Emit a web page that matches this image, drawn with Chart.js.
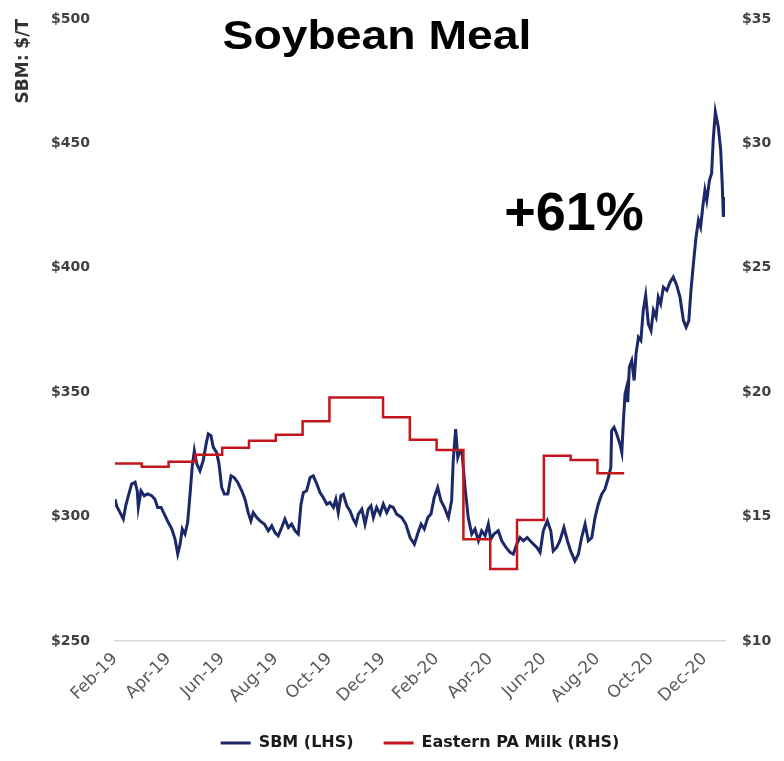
<!DOCTYPE html>
<html>
<head>
<meta charset="utf-8">
<script src="https://cdn.jsdelivr.net/npm/chart.js@4.4.1/dist/chart.umd.min.js"></script>
<style>
  html, body { margin: 0; padding: 0; background: #fff; }
  #wrap { width: 784px; height: 761px; }
</style>
</head>
<body>
<div id="wrap"><canvas id="sbmChart" width="784" height="761"></canvas></div>
<script>
// x values are months counted from 1 Feb 2019 (0 = Feb-19, 2 = Apr-19, ...)
const tickMonths = [0, 2, 4, 6, 8, 10, 12, 14, 16, 18, 20, 22];
const tickLabels = ['Feb-19', 'Apr-19', 'Jun-19', 'Aug-19', 'Oct-19', 'Dec-19',
                    'Feb-20', 'Apr-20', 'Jun-20', 'Aug-20', 'Oct-20', 'Dec-20'];

// SBM price, $/T (left axis)
const sbmMonths = [
  0, 0.06, 0.19, 0.31, 0.40, 0.50, 0.62, 0.75, 0.83, 0.87,
  0.97, 1.09, 1.22, 1.37, 1.49, 1.59, 1.72, 1.84, 1.99, 2.12,
  2.24, 2.34, 2.43, 2.51, 2.61, 2.71, 2.80, 2.88, 2.96, 3.05,
  3.17, 3.29, 3.40, 3.48, 3.58, 3.67, 3.79, 3.88, 3.98, 4.08,
  4.21, 4.33, 4.45, 4.58, 4.73, 4.85, 4.97, 5.07, 5.16, 5.29,
  5.41, 5.57, 5.72, 5.85, 5.97, 6.09, 6.22, 6.34, 6.47, 6.59,
  6.72, 6.84, 6.94, 7.03, 7.15, 7.28, 7.40, 7.53, 7.65, 7.77,
  7.90, 8.02, 8.15, 8.24, 8.33, 8.43, 8.52, 8.65, 8.77, 8.89,
  8.99, 9.08, 9.21, 9.33, 9.45, 9.55, 9.64, 9.76, 9.89, 10.01,
  10.14, 10.26, 10.38, 10.51, 10.70, 10.85, 11.01, 11.17, 11.29, 11.42,
  11.54, 11.67, 11.79, 11.91, 12.04, 12.16, 12.29, 12.44, 12.56, 12.62,
  12.71, 12.79, 12.87, 12.94, 13.06, 13.18, 13.31, 13.43, 13.56, 13.68,
  13.81, 13.93, 14.02, 14.14, 14.30, 14.43, 14.59, 14.74, 14.86, 14.99,
  15.11, 15.24, 15.38, 15.55, 15.74, 15.86, 15.98, 16.13, 16.26, 16.35,
  16.48, 16.60, 16.75, 16.88, 17.00, 17.16, 17.29, 17.41, 17.54, 17.66,
  17.79, 17.91, 18.03, 18.16, 18.28, 18.41, 18.50, 18.53, 18.62, 18.72,
  18.84, 18.91, 18.97, 19.03, 19.09, 19.13, 19.19, 19.28, 19.37, 19.44,
  19.53, 19.62, 19.71, 19.80, 19.90, 20.00, 20.09, 20.19, 20.27, 20.36,
  20.46, 20.59, 20.71, 20.83, 20.96, 21.08, 21.21, 21.31, 21.41, 21.49,
  21.58, 21.68, 21.77, 21.85, 21.93, 22.01, 22.08, 22.18, 22.26, 22.32,
  22.40, 22.51, 22.60, 22.66, 22.70, 22.74
];
const sbmPrices = [
  307.0, 304.3, 301.6, 299.0, 304.3, 308.4, 313.1, 313.8, 310.4, 303.7,
  310.4, 308.4, 309.1, 308.4, 307.0, 303.7, 303.7, 301.0, 297.6, 295.0,
  291.0, 285.0, 289.0, 295.0, 293.0, 297.6, 309.0, 320.0, 326.5, 321.2,
  318.4, 322.5, 329.2, 333.2, 332.5, 327.8, 325.8, 321.2, 311.7, 309.1,
  309.1, 316.4, 315.7, 313.7, 310.4, 307.0, 301.6, 298.3, 301.6, 299.6,
  298.3, 297.0, 294.3, 296.3, 293.6, 292.3, 295.6, 299.0, 295.6, 297.0,
  294.3, 293.0, 305.0, 309.7, 310.4, 315.7, 316.4, 313.1, 309.7, 307.7,
  305.0, 305.7, 303.7, 307.0, 301.6, 308.4, 309.0, 304.3, 302.3, 299.0,
  297.0, 301.0, 303.0, 297.0, 303.0, 304.3, 299.6, 303.7, 301.0, 305.0,
  301.6, 304.3, 303.7, 301.0, 299.6, 297.0, 291.6, 288.9, 293.0, 297.0,
  295.0, 299.6, 301.0, 307.7, 311.7, 306.4, 303.7, 299.6, 306.4, 322.5,
  335.2, 323.8, 326.5, 326.5, 311.7, 299.6, 293.0, 295.0, 290.3, 294.3,
  292.3, 297.0, 290.9, 293.0, 294.3, 290.3, 287.6, 285.6, 284.9, 289.0,
  291.6, 290.3, 291.6, 289.6, 287.6, 285.6, 294.3, 298.3, 294.3, 286.2,
  287.6, 290.3, 295.6, 290.3, 286.2, 282.2, 284.9, 291.6, 297.0, 290.3,
  291.6, 299.6, 305.0, 309.0, 311.0, 315.7, 319.8, 334.5, 335.9, 333.2,
  329.2, 325.8, 338.6, 349.3, 352.0, 346.0, 360.0, 362.7, 354.7, 365.4,
  372.1, 370.8, 382.9, 388.9, 377.5, 374.8, 382.9, 380.2, 388.2, 385.5,
  392.2, 390.9, 394.2, 396.3, 392.9, 388.2, 378.8, 376.1, 378.8, 390.9,
  401.6, 412.4, 419.1, 416.4, 424.4, 431.2, 427.1, 435.2, 437.9, 451.3,
  462.7, 456.6, 447.3, 432.5, 420.4, 428.5
];

// Eastern PA milk price, $/cwt (right axis), one value per month, last entry closes the step
const milkMonths = [0, 1, 2, 3, 4, 5, 6, 7, 8, 9, 10, 11, 12, 13, 14, 15, 16, 17, 18, 19];
const milkPrices = [17.13, 17.00, 17.20, 17.49, 17.77, 18.05, 18.29, 18.83, 19.79, 19.79,
                    18.99, 18.09, 17.68, 14.09, 12.89, 14.86, 17.45, 17.27, 16.74, 16.74];

const sbmPoints = sbmMonths.map((m, i) => ({ x: m, y: sbmPrices[i] }));
const milkPoints = milkMonths.map((m, i) => ({ x: m, y: milkPrices[i] }));

const navy = '#1c2868';
const red = '#c4161c';
const tickFont = { family: 'DejaVu Sans', size: 14, weight: 'bold' };

// big black captions drawn on top of the plot
const captions = {
  id: 'captions',
  afterDraw(chart) {
    const ctx = chart.ctx;
    ctx.save();
    ctx.fillStyle = '#000';
    ctx.textAlign = 'center';
    ctx.textBaseline = 'alphabetic';
    ctx.font = 'bold 41px "Liberation Sans", Arial, sans-serif';
    ctx.translate(377, 49);
    ctx.scale(1.13, 1);
    ctx.fillText('Soybean Meal', 0, 0);
    ctx.restore();
    ctx.save();
    ctx.fillStyle = '#000';
    ctx.textAlign = 'center';
    ctx.textBaseline = 'alphabetic';
    ctx.font = 'bold 54px "Liberation Sans", Arial, sans-serif';
    ctx.fillText('+61%', 574, 230);
    ctx.restore();
  }
};

const ctx = document.getElementById('sbmChart').getContext('2d');
const chart = new Chart(ctx, {
  type: 'line',
  data: {
    datasets: [{
      label: 'SBM (LHS)',
      data: sbmPoints,
      yAxisID: 'y',
      borderColor: navy,
      backgroundColor: navy,
      borderWidth: 3,
      pointRadius: 0,
      tension: 0,
      order: 1
    }, {
      label: 'Eastern PA Milk (RHS)',
      data: milkPoints,
      yAxisID: 'y1',
      borderColor: red,
      backgroundColor: red,
      borderWidth: 2.5,
      pointRadius: 0,
      stepped: 'before',
      order: 0
    }]
  },
  options: {
    responsive: false,
    animation: false,
    devicePixelRatio: 1,
    layout: { padding: { top: 19, left: 0, right: 0, bottom: 0 } },
    plugins: {
      title: { display: false },
      tooltip: { enabled: false },
      legend: {
        position: 'bottom',
        fullSize: false,
        labels: {
          boxWidth: 30,
          boxHeight: 3,
          padding: 30,
          color: '#1a1a1a',
          font: { family: 'DejaVu Sans', size: 16, weight: 'bold' },
          sort: (a, b) => a.datasetIndex - b.datasetIndex,
          generateLabels: c => Chart.defaults.plugins.legend.labels.generateLabels(c)
            .map(l => Object.assign(l, { lineWidth: 0 }))
        }
      }
    },
    scales: {
      x: {
        type: 'linear',
        min: 0,
        max: 22.76,
        afterBuildTicks: s => { s.ticks = tickMonths.map(v => ({ value: v })); },
        afterFit: s => { s.height = 64; },
        grid: { display: false, drawTicks: false },
        border: { display: true, color: '#d9d9d9', width: 1.5 },
        ticks: {
          autoSkip: false,
          minRotation: 45,
          maxRotation: 45,
          padding: 8,
          color: '#595959',
          font: { family: 'DejaVu Sans', size: 17 },
          callback: (v, i) => tickLabels[i]
        }
      },
      y: {
        position: 'left',
        min: 250,
        max: 500,
        afterBuildTicks: s => { s.ticks = [250, 300, 350, 400, 450, 500].map(v => ({ value: v })); },
        afterFit: s => { s.width = 115; },
        grid: { display: false, drawTicks: true, tickLength: 22 },
        border: { display: false },
        ticks: {
          padding: 3,
          color: '#404040',
          font: tickFont,
          callback: v => '$' + v
        },
        title: {
          display: true,
          text: 'SBM: $/T',
          align: 'end',
          color: '#333',
          font: { family: 'DejaVu Sans', size: 17, weight: 'bold' },
          padding: { top: 13, bottom: 0 }
        }
      },
      y1: {
        position: 'right',
        min: 10,
        max: 35,
        afterBuildTicks: s => { s.ticks = [10, 15, 20, 25, 30, 35].map(v => ({ value: v })); },
        afterFit: s => { s.width = 59; },
        grid: { display: false, drawTicks: true, tickLength: 14 },
        border: { display: false },
        ticks: {
          padding: 3,
          color: '#404040',
          font: tickFont,
          callback: v => '$' + v
        }
      }
    }
  },
  plugins: [captions]
});
</script>
</body>
</html>
